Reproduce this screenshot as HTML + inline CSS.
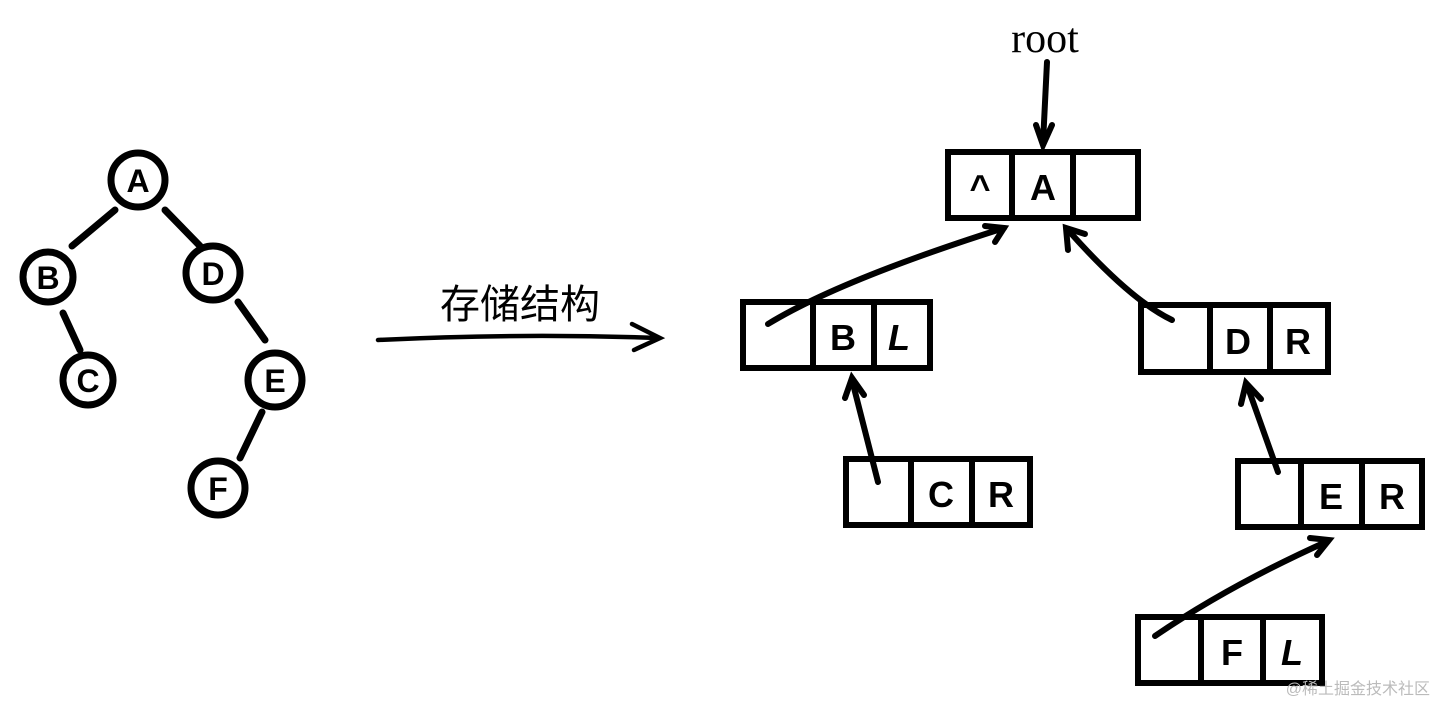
<!DOCTYPE html>
<html><head><meta charset="utf-8"><style>
html,body{margin:0;padding:0;background:#fff;}
svg{display:block}
text{font-family:"Liberation Sans","Noto Sans CJK SC",sans-serif;font-weight:bold;}
</style></head><body>
<svg width="1437" height="704" viewBox="0 0 1437 704">
<g stroke="#000" stroke-width="7" stroke-linecap="round" fill="none">
<line x1="115" y1="210" x2="72" y2="246"/>
<line x1="165" y1="210" x2="200" y2="246"/>
<line x1="63" y1="313" x2="80" y2="350"/>
<line x1="238" y1="302" x2="265" y2="340"/>
<line x1="262" y1="412" x2="240" y2="458"/>
<circle cx="138" cy="180" r="27"/>
<circle cx="48" cy="277" r="25"/>
<circle cx="213" cy="273" r="27"/>
<circle cx="88" cy="380" r="25"/>
<circle cx="275" cy="380" r="27"/>
<circle cx="218" cy="488" r="27"/>
</g>
<g font-size="32" text-anchor="middle">
<text x="138" y="192">A</text><text x="48" y="289">B</text><text x="213" y="285">D</text>
<text x="88" y="392">C</text><text x="275" y="392">E</text><text x="218" y="500">F</text>
</g>
<g stroke="#000" stroke-width="4.5" stroke-linecap="round" fill="none">
<path d="M378,340 Q520,333 658,338"/>
<path d="M632,324 L660,338 L634,350"/>
</g>
<text x="520" y="318" font-size="40" text-anchor="middle" style="font-weight:normal">存储结构</text>
<text x="1045" y="52" font-size="42" text-anchor="middle" font-family="Liberation Serif" style="font-family:'Liberation Serif',serif;font-weight:normal">root</text>
<g stroke="#000" stroke-width="6" stroke-linecap="round" fill="none">
<line x1="1047" y1="62" x2="1043" y2="143"/>
<path d="M1036,125 L1043,145 L1052,125"/>
<rect x="948" y="152" width="190" height="66"/><line x1="1012" y1="152" x2="1012" y2="218"/><line x1="1073" y1="152" x2="1073" y2="218"/>
<rect x="743" y="302" width="187" height="66"/><line x1="813" y1="302" x2="813" y2="368"/><line x1="874" y1="302" x2="874" y2="368"/>
<rect x="1141" y="305" width="187" height="67"/><line x1="1210" y1="305" x2="1210" y2="372"/><line x1="1270" y1="305" x2="1270" y2="372"/>
<rect x="846" y="459" width="184" height="66"/><line x1="911" y1="459" x2="911" y2="525"/><line x1="972" y1="459" x2="972" y2="525"/>
<rect x="1238" y="461" width="184" height="66"/><line x1="1301" y1="461" x2="1301" y2="527"/><line x1="1362" y1="461" x2="1362" y2="527"/>
<rect x="1138" y="617" width="184" height="66"/><line x1="1201" y1="617" x2="1201" y2="683"/><line x1="1263" y1="617" x2="1263" y2="683"/>
<path d="M768,324 Q840,280 1004,228"/><path d="M985,226 L1004,228 L995,242"/>
<path d="M1172,320 Q1130,300 1068,230"/><path d="M1068,250 L1066,228 L1085,234"/>
<line x1="878" y1="482" x2="852" y2="380"/><path d="M845,398 L852,378 L864,395"/>
<line x1="1278" y1="472" x2="1247" y2="385"/><path d="M1241,404 L1246,383 L1261,399"/>
<path d="M1155,636 Q1230,585 1328,541"/><path d="M1310,538 L1329,540 L1317,555"/>
</g>
<g font-size="36" text-anchor="middle">
<text x="980" y="200">^</text><text x="1043" y="200">A</text>
<text x="843" y="350">B</text><text x="899" y="350" font-style="italic">L</text>
<text x="1238" y="354">D</text><text x="1298" y="354">R</text>
<text x="941" y="507">C</text><text x="1001" y="507">R</text>
<text x="1331" y="509">E</text><text x="1392" y="509">R</text>
<text x="1232" y="665">F</text><text x="1292" y="665" font-style="italic">L</text>
</g>
<text x="1430" y="694" font-size="16" text-anchor="end" fill="#bbb" style="font-weight:normal">@稀土掘金技术社区</text>
</svg>
</body></html>
